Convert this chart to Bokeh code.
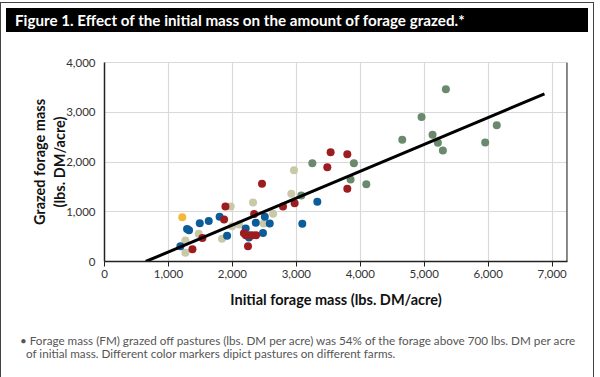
from bokeh.plotting import figure
from bokeh.models import Range1d, NumeralTickFormatter, FixedTicker, Div, Span
from bokeh.layouts import column
from bokeh.embed import file_html
from bokeh.resources import INLINE

# ---- data (lbs. DM/acre) ----
red_x = [1375, 1531, 1870, 1891, 2180, 2210, 2265, 2315, 2370, 2244, 2340, 2463, 2791, 2973, 3484, 3536, 3797, 3797]
red_y = [245, 470, 846, 1104, 570, 530, 530, 530, 530, 307, 955, 1562, 1104, 1170, 1896, 2196, 2155, 1460]

blue_x = [1187, 1291, 1322, 1490, 1630, 1800, 1917, 2208, 2260, 2366, 2507, 2478, 2584, 3093, 3328]
blue_y = [307, 654, 628, 770, 812, 900, 517, 663, 483, 777, 900, 571, 765, 757, 1200]

beige_x = [1265, 1265, 1473, 1838, 1973, 1995, 2105, 2323, 2490, 2637, 2921, 2963]
beige_y = [423, 178, 560, 458, 1104, 710, 744, 1186, 765, 960, 1364, 1834]

green_x = [3078, 3250, 3848, 3900, 4094, 4656, 4958, 5130, 5213, 5291, 5338, 5953, 6134]
green_y = [1329, 1977, 1650, 1977, 1554, 2448, 2904, 2550, 2386, 2229, 3464, 2393, 2740]

yellow_x = [1216]
yellow_y = [890]

fit_x = [645, 6880]
fit_y = [0, 3370]

x_ticks = [0, 1000, 2000, 3000, 4000, 5000, 6000, 7000]
y_ticks = [0, 1000, 2000, 3000, 4000]
x_max = 7240
y_max = 4000

title_text = "Figure 1. Effect of the initial mass on the amount of forage grazed.*"
x_title = "Initial forage mass (lbs. DM/acre)"
y_title = "Grazed forage mass\n(lbs. DM/acre)"
note_1 = "\u2022 Forage mass (FM) grazed off pastures (lbs. DM per acre) was 54% of the forage above 700 lbs. DM per acre"
note_2 = "of initial mass. Different color markers dipict pastures on different farms."

FONT = "Lato"
W = 582

title_div = Div(text=title_text, width=W, height=24,
                styles={"background-color": "black", "color": "white",
                        "font-family": FONT, "font-weight": "bold", "font-size": "15.2px",
                        "line-height": "24px", "padding-left": "9px", "box-sizing": "border-box",
                        "white-space": "nowrap"})

p = figure(width=W, height=280, output_backend="svg", toolbar_location=None,
           x_range=Range1d(0, x_max), y_range=Range1d(0, y_max),
           min_border_left=103, min_border_right=16, min_border_top=25, min_border_bottom=56)
p.background_fill_color = "white"
p.border_fill_color = "white"
p.outline_line_color = "#d9d9d9"

for ax in (p.xaxis[0], p.yaxis[0]):
    ax.formatter = NumeralTickFormatter(format="0,0")
    ax.axis_line_color = "#222222"
    ax.axis_line_width = 1.5
    ax.major_tick_line_color = "#222222"
    ax.major_tick_line_width = 1
    ax.minor_tick_line_color = None
    ax.major_label_text_font = FONT
    ax.major_label_text_font_size = "11.5px"
    ax.major_label_text_color = "#333333"
    ax.major_tick_in = 0
    ax.axis_label_text_font = FONT
    ax.axis_label_text_font_style = "bold"
    ax.axis_label_text_font_size = "14.5px"
    ax.axis_label_text_color = "#111111"

p.xaxis[0].ticker = FixedTicker(ticks=x_ticks)
p.yaxis[0].ticker = FixedTicker(ticks=y_ticks)
p.xaxis[0].major_tick_out = 5
p.yaxis[0].major_tick_out = 0
p.xaxis[0].major_label_standoff = 3
p.yaxis[0].major_label_standoff = 9
p.xaxis[0].axis_label = x_title
p.yaxis[0].axis_label = y_title
p.xaxis[0].axis_label_standoff = 10
p.yaxis[0].axis_label_standoff = -5

p.grid.grid_line_color = "#d9d9d9"
p.grid.grid_line_width = 1.2

# dark right border of the plot area
p.add_layout(Span(location=x_max * 0.9992, dimension="height", line_color="#333333", line_width=1.5))

S = 8
p.scatter(beige_x, beige_y, size=S, color="#c9c8a7", line_color=None)
p.scatter(blue_x, blue_y, size=S, color="#0b5c99", line_color=None)
p.scatter(red_x, red_y, size=S, color="#9c1c1f", line_color=None)
p.scatter(green_x, green_y, size=S, color="#6b8a6d", line_color=None)
p.scatter(yellow_x, yellow_y, size=S, color="#f5b93a", line_color=None)

p.line(fit_x, fit_y, line_color="black", line_width=3)

note_div = Div(text=note_1 + "<br>&nbsp;&nbsp;" + note_2, width=W, height=52,
               styles={"font-family": FONT, "font-size": "11.7px", "color": "#555555",
                       "line-height": "13px", "padding-left": "14px", "padding-top": "12px",
                       "box-sizing": "border-box", "white-space": "nowrap"})

layout = column(title_div, p, note_div, spacing=0,
                styles={"border": "1px solid #444444", "margin-top": "2px"})

open("out.html", "w").write(file_html(layout, INLINE))
